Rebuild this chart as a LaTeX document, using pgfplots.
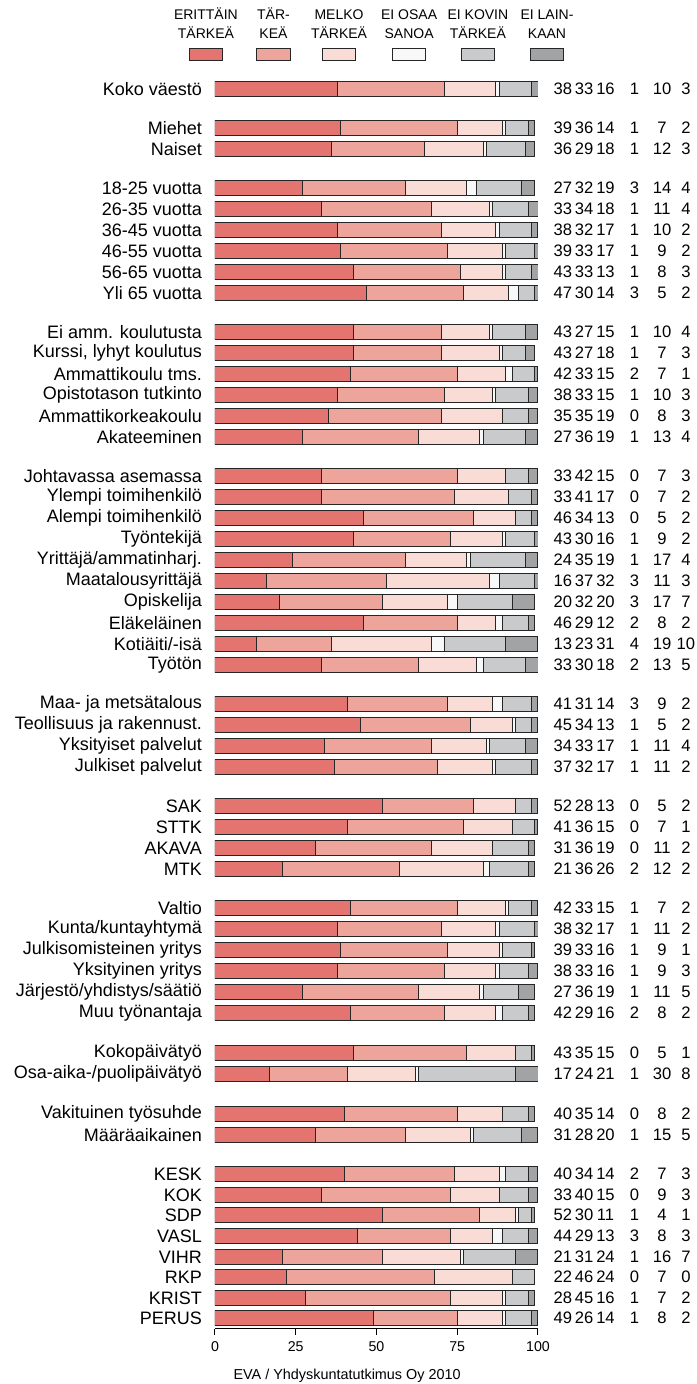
\documentclass[border=0pt]{standalone}
\usepackage{pgfplots}
\pgfplotsset{compat=1.18}
\usepackage{pgfplotstable}
\usepackage{fontspec}
\setmainfont{Liberation Sans}

\definecolor{c1}{HTML}{E4746F}
\definecolor{c2}{HTML}{EDA59B}
\definecolor{c3}{HTML}{F9DCD6}
\definecolor{c4}{HTML}{F8F8F8}
\definecolor{c5}{HTML}{C9CACC}
\definecolor{c6}{HTML}{A2A3A5}

% y = row position (1 unit = 1 px from the bottom of the picture)
\pgfplotstableread[col sep=semicolon]{
y;label;a;b;c;d;e;f
1295;Koko väestö;38;33;16;1;10;3
1256;Miehet;39;36;14;1;7;2
1235;Naiset;36;29;18;1;12;3
1196;18-25 vuotta;27;32;19;3;14;4
1175;26-35 vuotta;33;34;18;1;11;4
1154;36-45 vuotta;38;32;17;1;10;2
1133;46-55 vuotta;39;33;17;1;9;2
1112;56-65 vuotta;43;33;13;1;8;3
1091;Yli 65 vuotta;47;30;14;3;5;2
1052;Ei amm. koulutusta;43;27;15;1;10;4
1031;Kurssi, lyhyt koulutus;43;27;18;1;7;3
1010;Ammattikoulu tms.;42;33;15;2;7;1
989;Opistotason tutkinto;38;33;15;1;10;3
968;Ammattikorkeakoulu;35;35;19;0;8;3
947;Akateeminen;27;36;19;1;13;4
908;Johtavassa asemassa;33;42;15;0;7;3
887;Ylempi toimihenkilö;33;41;17;0;7;2
866;Alempi toimihenkilö;46;34;13;0;5;2
845;Työntekijä;43;30;16;1;9;2
824;Yrittäjä/ammatinharj.;24;35;19;1;17;4
803;Maatalousyrittäjä;16;37;32;3;11;3
782;Opiskelija;20;32;20;3;17;7
761;Eläkeläinen;46;29;12;2;8;2
740;Kotiäiti/-isä;13;23;31;4;19;10
719;Työtön;33;30;18;2;13;5
680;Maa- ja metsätalous;41;31;14;3;9;2
659;Teollisuus ja rakennust.;45;34;13;1;5;2
638;Yksityiset palvelut;34;33;17;1;11;4
617;Julkiset palvelut;37;32;17;1;11;2
578;SAK;52;28;13;0;5;2
557;STTK;41;36;15;0;7;1
536;AKAVA;31;36;19;0;11;2
515;MTK;21;36;26;2;12;2
476;Valtio;42;33;15;1;7;2
455;Kunta/kuntayhtymä;38;32;17;1;11;2
434;Julkisomisteinen yritys;39;33;16;1;9;1
413;Yksityinen yritys;38;33;16;1;9;3
392;Järjestö/yhdistys/säätiö;27;36;19;1;11;5
371;Muu työnantaja;42;29;16;2;8;2
331;Kokopäivätyö;43;35;15;0;5;1
310;Osa-aika-/puolipäivätyö;17;24;21;1;30;8
270;Vakituinen työsuhde;40;35;14;0;8;2
249;Määräaikainen;31;28;20;1;15;5
210;KESK;40;34;14;2;7;3
189;KOK;33;40;15;0;9;3
169;SDP;52;30;11;1;4;1
148;VASL;44;29;13;3;8;3
127;VIHR;21;31;24;1;16;7
107;RKP;22;46;24;0;7;0
86;KRIST;28;45;16;1;7;2
66;PERUS;49;26;14;1;8;2
}\data

\tikzset{
  seg/.style={draw=black!85, line width=0.5pt, fill=#1},
  legtxt/.style={anchor=base, inner sep=0pt, font=\fontsize{7}{8}\selectfont},
}
\pgfplotsset{
  frame/.style={scale only axis, width=161.5pt, height=625.5pt,
    xmin=0, xmax=100, ymin=55, ymax=1306},
  num/.style={only marks, mark=none, nodes near coords,
    nodes near coords align={center}, point meta=explicit symbolic,
    every node near coord/.append style={font=\fontsize{8.3}{9}\selectfont, inner sep=0pt}},
}

\begin{document}
\begin{tikzpicture}
\begin{axis}[frame,
  xbar stacked, bar width=7.5pt,
  axis x line*=bottom, axis y line*=left,
  y axis line style={draw=none},
  ytick=data, yticklabels from table={\data}{label},
  ytick style={draw=none},
  yticklabel style={font=\fontsize{9}{10}\selectfont},
  xtick={0,25,50,75,100},
  tick align=outside, major tick length=3pt,
  xtick style={black, line width=0.5pt},
  x axis line style={line width=0.5pt},
  xticklabel style={font=\fontsize{7.1}{8}\selectfont},
  /pgf/number format/assume math mode=true,
]
\addplot[seg=c1] table[x=a, y=y] {\data};
\addplot[seg=c2] table[x=b, y=y] {\data};
\addplot[seg=c3] table[x=c, y=y] {\data};
\addplot[seg=c4] table[x=d, y=y] {\data};
\addplot[seg=c5] table[x=e, y=y] {\data};
\addplot[seg=c6] table[x=f, y=y] {\data};
\end{axis}

\begin{axis}[frame, hide axis, clip=false]
% numbers at the right
\addplot[num] table[x expr=107.7, y=y, meta=a] {\data};
\addplot[num] table[x expr=114.3, y=y, meta=b] {\data};
\addplot[num] table[x expr=120.9, y=y, meta=c] {\data};
\addplot[num] table[x expr=129.9, y=y, meta=d] {\data};
\addplot[num] table[x expr=138.4, y=y, meta=e] {\data};
\addplot[num] table[x expr=145.8, y=y, meta=f] {\data};

% legend
\draw[seg=c1] (axis cs:-8.0,1323) rectangle (axis cs:2.4,1335);
\node[legtxt] at (axis cs:-2.8,1364) {ERITTÄIN};
\node[legtxt] at (axis cs:-2.8,1345) {TÄRKEÄ};
\draw[seg=c2] (axis cs:12.9,1323) rectangle (axis cs:23.3,1335);
\node[legtxt] at (axis cs:18.1,1364) {TÄR-};
\node[legtxt] at (axis cs:18.1,1345) {KEÄ};
\draw[seg=c3] (axis cs:33.2,1323) rectangle (axis cs:43.6,1335);
\node[legtxt] at (axis cs:38.4,1364) {MELKO};
\node[legtxt] at (axis cs:38.4,1345) {TÄRKEÄ};
\draw[seg=c4] (axis cs:54.9,1323) rectangle (axis cs:65.3,1335);
\node[legtxt] at (axis cs:60.1,1364) {EI OSAA};
\node[legtxt] at (axis cs:60.1,1345) {SANOA};
\draw[seg=c5] (axis cs:76.2,1323) rectangle (axis cs:86.6,1335);
\node[legtxt] at (axis cs:81.4,1364) {EI KOVIN};
\node[legtxt] at (axis cs:81.4,1345) {TÄRKEÄ};
\draw[seg=c6] (axis cs:97.6,1323) rectangle (axis cs:108.0,1335);
\node[legtxt] at (axis cs:102.8,1364) {EI LAIN-};
\node[legtxt] at (axis cs:102.8,1345) {KAAN};

\node[anchor=base, inner sep=0pt, font=\fontsize{7.2}{8}\selectfont]
  at (axis cs:40.9,5) {EVA / Yhdyskuntatutkimus Oy 2010};

% picture frame
\path (axis cs:-66.56,0) rectangle (axis cs:148.92,1384);
\end{axis}
\end{tikzpicture}
\end{document}
